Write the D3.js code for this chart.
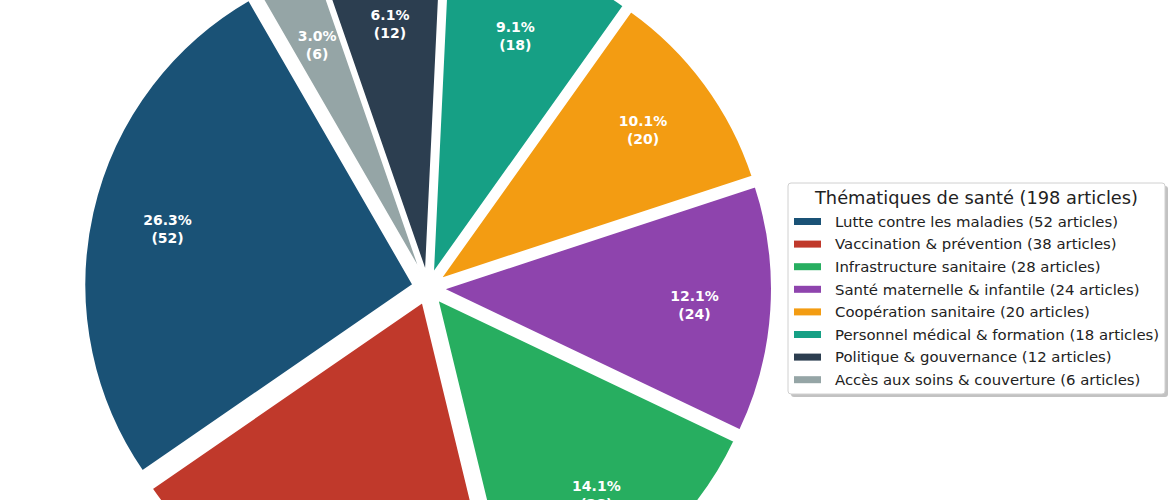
<!DOCTYPE html>
<html>
<head>
<meta charset="utf-8">
<script src="https://cdn.jsdelivr.net/npm/d3@7"></script>
<style>
  body { margin: 0; background: #fff; }
  svg { display: block; font-family: "DejaVu Sans", sans-serif; }
</style>
</head>
<body>
<div id="container"></div>
<script>
const categories = [
    'Lutte contre les maladies',
    'Vaccination & prévention',
    'Infrastructure sanitaire',
    'Santé maternelle & infantile',
    'Coopération sanitaire',
    'Personnel médical & formation',
    'Politique & gouvernance',
    'Accès aux soins & couverture'
];
const counts = [52, 38, 28, 24, 20, 18, 12, 6];
const colors = ['#1a5276', '#c0392b', '#27ae60', '#8e44ad', '#f39c12', '#16a085', '#2c3e50', '#95a5a6'];

const width = 1175, height = 500;
const cx = 428, cy = 288, radius = 329;
const explode = 15;

const total = d3.sum(counts);

const svg = d3.select('#container')
    .append('svg')
    .attr('width', width)
    .attr('height', height);

// matplotlib-style: start at 120deg, counter clockwise
const start = (90 - 120) * Math.PI / 180;
const pie = d3.pie()
    .sort(null)
    .startAngle(start)
    .endAngle(start - 2 * Math.PI);

const arc = d3.arc().innerRadius(0).outerRadius(radius);

const slices = pie(counts);

const wedge = svg.append('g')
    .attr('transform', `translate(${cx}, ${cy})`)
    .selectAll('g')
    .data(slices)
    .enter()
    .append('g')
    .attr('transform', d => {
        const mid = (d.startAngle + d.endAngle) / 2;
        return `translate(${explode * Math.sin(mid)}, ${-explode * Math.cos(mid)})`;
    });

wedge.append('path')
    .attr('d', arc)
    .attr('fill', (d, i) => colors[i])
    .attr('stroke', '#fff')
    .attr('stroke-width', 2);

// percentage labels
const labelR = radius * 0.766;
const label = wedge.append('text')
    .attr('transform', d => {
        const mid = (d.startAngle + d.endAngle) / 2;
        return `translate(${labelR * Math.sin(mid)}, ${-labelR * Math.cos(mid)})`;
    })
    .attr('text-anchor', 'middle')
    .attr('fill', '#fff')
    .attr('font-weight', 'bold')
    .attr('font-size', 14);

label.append('tspan')
    .attr('x', 0)
    .attr('y', -4)
    .text(d => (d.value / total * 100).toFixed(1) + '%');

label.append('tspan')
    .attr('x', 0)
    .attr('y', 14)
    .text(d => `(${d.value})`);

/*============================================
    LEGEND
=============================================*/
const lx = 788, ly = 183, lw = 377, lh = 211;
const legend = svg.append('g');

legend.append('rect')
    .attr('x', lx + 3).attr('y', ly + 3)
    .attr('width', lw).attr('height', lh)
    .attr('rx', 3)
    .attr('fill', '#999')
    .attr('opacity', 0.6);

legend.append('rect')
    .attr('x', lx).attr('y', ly)
    .attr('width', lw).attr('height', lh)
    .attr('rx', 3)
    .attr('fill', '#fff')
    .attr('stroke', '#d0d0d0')
    .attr('stroke-width', 1);

legend.append('text')
    .attr('x', lx + lw / 2)
    .attr('y', ly + 20.5)
    .attr('text-anchor', 'middle')
    .attr('font-size', 17.8)
    .attr('fill', '#222')
    .text(`Thématiques de santé (${total} articles)`);

const row = legend.selectAll('.row')
    .data(categories)
    .enter()
    .append('g')
    .attr('class', 'row')
    .attr('transform', (d, i) => `translate(${lx + 6}, ${ly + 38.5 + i * 22.6})`);

row.append('rect')
    .attr('x', 0).attr('y', -3.5)
    .attr('width', 27).attr('height', 7)
    .attr('fill', (d, i) => colors[i]);

row.append('text')
    .attr('x', 41)
    .attr('y', 5.3)
    .attr('font-size', 14.9)
    .attr('fill', '#222')
    .text((d, i) => `${d} (${counts[i]} articles)`);
</script>
</body>
</html>
